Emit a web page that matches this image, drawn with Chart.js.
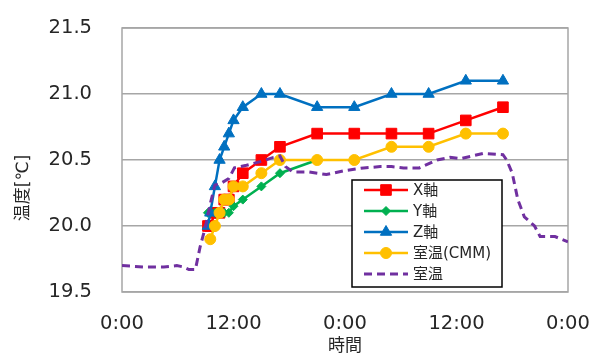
<!DOCTYPE html>
<html>
<head>
<meta charset="utf-8">
<script src="https://cdn.jsdelivr.net/npm/chart.js@4.4.1/dist/chart.umd.min.js"></script>
<style>
  html, body { margin: 0; padding: 0; background: #fff; }
  #chart { display: block; }
</style>
</head>
<body>
<canvas id="chart" width="606" height="358"></canvas>
<script>
const fontFamily = "'DejaVu Sans', 'Noto Sans CJK JP', sans-serif";

//measurement times, hours from the first 0:00
const hours = [9.25, 9.5, 10, 10.5, 11, 11.5, 12, 13, 15, 17, 21, 25, 29, 33, 37, 41];
//axis temperatures
const xAxisTemp = [20.0, 20.0, 20.1, 20.1, 20.2, 20.2, 20.3, 20.4, 20.5, 20.6, 20.7, 20.7, 20.7, 20.7, 20.8, 20.9];
const yAxisTemp = [20.1, 20.1, 20.1, 20.1, 20.1, 20.1, 20.15, 20.2, 20.3, 20.4, 20.5];
const zAxisTemp = [20.0, 20.1, 20.3, 20.5, 20.6, 20.7, 20.8, 20.9, 21.0, 21.0, 20.9, 20.9, 21.0, 21.0, 21.1, 21.1];
const cmmTemp = [null, 19.9, 20.0, 20.1, 20.2, 20.2, 20.3, 20.3, 20.4, 20.5, 20.5, 20.5, 20.6, 20.6, 20.7, 20.7];
//room temperature log
const roomHours = [0, 2.3, 4.5, 5.9, 6.6, 7.2, 7.9, 8.4, 9.0, 9.5, 10.0, 10.8, 11.5, 12.1, 13.4, 15.0, 16.3, 17.0, 17.6, 18.4, 20, 22, 24, 26, 27.8, 29, 30.3, 32, 33.9, 35.3, 36.4, 38.9, 41.0, 41.4, 42, 42.6, 43.3, 44.4, 45, 46.6, 48];
const roomTemp = [19.70, 19.69, 19.69, 19.70, 19.69, 19.67, 19.67, 19.84, 20.0, 20.17, 20.31, 20.33, 20.36, 20.44, 20.46, 20.49, 20.52, 20.53, 20.45, 20.41, 20.41, 20.39, 20.42, 20.44, 20.45, 20.45, 20.44, 20.44, 20.5, 20.52, 20.51, 20.55, 20.54, 20.5, 20.4, 20.2, 20.07, 20.0, 19.92, 19.92, 19.88];

const seriesNames = ["X軸", "Y軸", "Z軸", "室温(CMM)", "室温"];
const yTicks = { min: 19.5, max: 21.5, step: 0.5 };

const toPoints = (xs, ys) => ys.map((v, i) => ({ x: xs[i], y: v })).filter(p => p.y !== null);

const lineSet = (label, data, color, style, radius, order) => ({
  label: label,
  data: data,
  borderColor: color,
  backgroundColor: color,
  borderWidth: 2.5,
  pointStyle: style,
  pointRadius: radius,
  pointBorderWidth: 1,
  pointBackgroundColor: color,
  pointBorderColor: color,
  order: order,
  tension: 0,
});

//frame around plot area
const framePlugin = {
  id: "frame",
  beforeDatasetsDraw(chart) {
    const { ctx, chartArea: a } = chart;
    ctx.save();
    ctx.strokeStyle = "#a6a6a6";
    ctx.lineWidth = 1.5;
    ctx.strokeRect(a.left, a.top, a.right - a.left, a.bottom - a.top);
    ctx.restore();
  },
};

//y title sits a bit below centre like the original
const yTitlePlugin = {
  id: "yTitle",
  afterDraw(chart) {
    const ctx = chart.ctx;
    ctx.save();
    ctx.translate(24, 188);
    ctx.rotate(-Math.PI / 2);
    ctx.font = "17px " + fontFamily;
    ctx.fillStyle = "#262626";
    ctx.textAlign = "center";
    ctx.textBaseline = "middle";
    ctx.fillText("温度[℃]", 0, 0);
    ctx.restore();
  },
};

//boxed legend inside plot
const legendPlugin = {
  id: "boxLegend",
  afterDraw(chart) {
    const ctx = chart.ctx;
    ctx.save();
    ctx.fillStyle = "#fff";
    ctx.fillRect(352, 180, 150, 107);
    ctx.strokeStyle = "#000";
    ctx.lineWidth = 1.5;
    ctx.strokeRect(352, 180, 150, 107);
    chart.data.datasets.forEach((ds, i) => {
      const y = 190 + i * 21;
      ctx.strokeStyle = ds.borderColor;
      ctx.lineWidth = ds.borderWidth;
      ctx.setLineDash(ds.borderDash || []);
      ctx.beginPath();
      ctx.moveTo(364, y);
      ctx.lineTo(408, y);
      ctx.stroke();
      ctx.setLineDash([]);
      if (ds.pointRadius > 0) {
        ctx.fillStyle = ds.borderColor;
        ctx.lineWidth = 1;
        Chart.helpers.drawPoint(ctx, { pointStyle: ds.pointStyle, radius: ds.pointRadius, borderWidth: 1, rotation: 0 }, 386, y);
      }
      ctx.fillStyle = "#262626";
      ctx.font = "15px " + fontFamily;
      ctx.textBaseline = "middle";
      ctx.fillText(ds.label, 413, y + 1);
    });
    ctx.restore();
  },
};

const roomSet = {
  label: seriesNames[4],
  data: toPoints(roomHours, roomTemp),
  borderColor: "#7030a0",
  borderWidth: 3,
  borderDash: [8, 5],
  pointRadius: 0,
  order: 0,
  tension: 0,
};

new Chart(document.getElementById("chart"), {
  type: "line",
  data: {
    datasets: [
      lineSet(seriesNames[0], toPoints(hours, xAxisTemp), "#ff0000", "rect", 7.5, 4),
      lineSet(seriesNames[1], toPoints(hours, yAxisTemp), "#00b050", "rectRot", 4.5, 3),
      lineSet(seriesNames[2], toPoints(hours, zAxisTemp), "#0070c0", "triangle", 6.5, 2),
      lineSet(seriesNames[3], toPoints(hours, cmmTemp), "#ffc000", "circle", 5.5, 1),
      roomSet,
    ],
  },
  plugins: [framePlugin, yTitlePlugin, legendPlugin],
  options: {
    responsive: false,
    animation: false,
    layout: { padding: { top: 28, right: 38, left: 0, bottom: 0 } },
    plugins: {
      legend: { display: false },
      tooltip: { enabled: false },
    },
    scales: {
      x: {
        type: "linear",
        min: 0,
        max: 48,
        afterFit: (s) => { s.height = 66; },
        ticks: {
          stepSize: 12,
          padding: 0,
          color: "#262626",
          font: { family: fontFamily, size: 19.5 },
          callback: (v) => (v % 24) + ":00",
        },
        //invisible tick marks only push the labels down
        grid: { color: "transparent", tickColor: "transparent", drawTicks: true, tickLength: 20 },
        border: { display: false },
        title: {
          display: true,
          text: "時間",
          color: "#262626",
          font: { family: fontFamily, size: 17 },
          padding: { top: 0, bottom: 1 },
        },
      },
      y: {
        min: yTicks.min,
        max: yTicks.max,
        afterFit: (s) => { s.width = 122; },
        ticks: {
          stepSize: yTicks.step,
          padding: 0,
          color: "#262626",
          font: { family: fontFamily, size: 19.5 },
          callback: (v) => v.toFixed(1),
        },
        grid: { color: "#a6a6a6", lineWidth: 1.5, tickColor: "transparent", drawTicks: true, tickLength: 30 },
        border: { display: false },
      },
    },
  },
});
</script>
</body>
</html>
